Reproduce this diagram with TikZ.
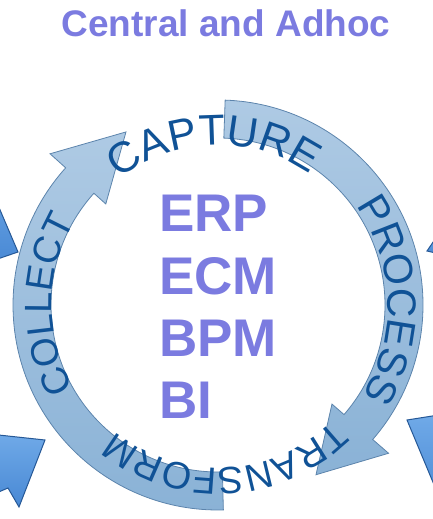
\documentclass[tikz,border=0pt]{standalone}
\usepackage{fontspec}
\setmainfont{Liberation Sans}
\usetikzlibrary{positioning,decorations.text}

\definecolor{titleblue}{RGB}{123,123,224}
\definecolor{wordblue}{RGB}{16,82,150}
\definecolor{ringtop}{RGB}{174,202,228}
\definecolor{ringbot}{RGB}{138,178,214}
\definecolor{ringline}{RGB}{92,132,172}
\definecolor{sidetop}{RGB}{112,170,232}
\definecolor{sidebot}{RGB}{72,136,212}
\definecolor{sideline}{RGB}{38,88,150}

\tikzset{
  ring/.style={draw=ringline, line width=0.8pt, top color=ringtop, bottom color=ringbot},
  side/.style={draw=sideline, line width=1pt, top color=sidetop, bottom color=sidebot},
  stage/.style={decorate, decoration={text along path, text align=center, text color=wordblue}},
  acronym/.style={font=\bfseries\fontsize{53}{53}\selectfont, text=titleblue, inner sep=0pt}
}

\begin{document}
\begin{tikzpicture}[x=1pt, y=1pt]
  \useasboundingbox (0,0) rectangle (433,519);
  \clip (0,0) rectangle (433,519);

  % pieces of the neighbouring cycles
  \draw [side] (-20,356) -- (18,267) -- (-20,254) -- cycle;
  \draw [side] (-20,86) -- (45,79) -- (19,12) -- (8,31) -- (-20,19) -- cycle;
  \draw [side] (427,268) -- (440,287) -- (440,265) -- cycle;
  \draw [side] (407,99) -- (445,105) -- (445,8) -- cycle;

  \node (title) [font=\bfseries\fontsize{37}{37}\selectfont, text=titleblue, anchor=base] at (226,482) {Central and Adhoc};

  \begin{scope}[shift={(218,214)}]
    % the two arrows of the cycle
    \draw [ring] (-88.5:205) arc [start angle=-88.5, end angle=-222, radius=205]
      -- (-222:226) -- (-242:196) -- (-222:151) -- (-222:167)
      arc [start angle=-222, end angle=-88.5, radius=167] -- cycle;
    \draw [ring] (88:205) arc [start angle=88, end angle=-41, radius=205]
      -- (-41:226) -- (-60:196) -- (-41:151) -- (-41:167)
      arc [start angle=-41, end angle=88, radius=167] -- cycle;

    % stage names along the ring
    \path [stage, decoration={text={|\fontsize{43}{43}\selectfont|CAPTURE}}]
      (151.5:160) arc [start angle=151.5, end angle=31.5, radius=160];
    \path [stage, decoration={text={|\fontsize{41}{41}\selectfont|PROCESS}}]
      (61.8:170) arc [start angle=61.8, end angle=-58.2, radius=170];
    \path [stage, decoration={text={|\fontsize{38}{38}\selectfont|TRANSFORM}}]
      (-27.2:163) arc [start angle=-27.2, end angle=-147.2, radius=163];
    \path [stage, decoration={text={|\fontsize{38}{38}\selectfont|COLLECT}}]
      (239.7:166) arc [start angle=239.7, end angle=119.7, radius=166];
  \end{scope}

  \node (erp) [acronym, anchor=base west] at (159,287) {ERP};
  \node (ecm) [acronym, below=25pt of erp.south west, anchor=north west] {ECM};
  \node (bpm) [acronym, below=25pt of ecm.south west, anchor=north west] {BPM};
  \node (bi)  [acronym, below=25pt of bpm.south west, anchor=north west] {BI};
\end{tikzpicture}
\end{document}
